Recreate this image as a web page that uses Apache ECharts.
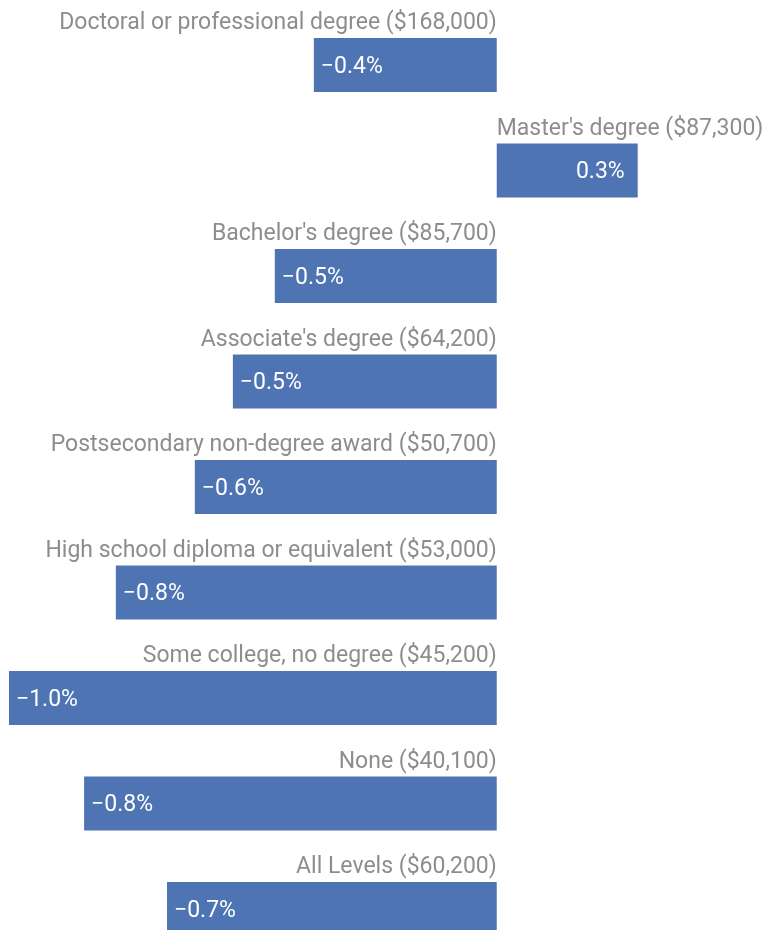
<!DOCTYPE html>
<html>
<head>
<meta charset="utf-8">
<script src="https://cdn.jsdelivr.net/npm/echarts@6/dist/echarts.min.js"></script>
<style>
html,body{margin:0;padding:0;background:#fff;}
#chart{width:765px;height:930px;}
</style>
</head>
<body>
<div id="chart"></div>
<script>
const categories = [
  "Doctoral or professional degree ($168,000)",
  "Master's degree ($87,300)",
  "Bachelor's degree ($85,700)",
  "Associate's degree ($64,200)",
  "Postsecondary non-degree award ($50,700)",
  "High school diploma or equivalent ($53,000)",
  "Some college, no degree ($45,200)",
  "None ($40,100)",
  "All Levels ($60,200)"
];
const changePct = [-0.375, 0.289, -0.455, -0.541, -0.619, -0.781, -1.0, -0.846, -0.676];

const FONT = 'Roboto';
const BAR = '#4e74b3';
const GRAY = '#707070';
const FS = 23;

function fmt(v) {
  const s = Math.abs(v).toFixed(1) + '%';
  return v < 0 ? '\u2212' + s : s;
}

const barData = changePct.map(v => ({
  value: v,
  label: v < 0
    ? { position: 'insideLeft', distance: 7 }
    : { position: 'insideRight', distance: 13 }
}));

const nameData = categories.map((c, i) => ({
  value: [0, i],
  label: { align: changePct[i] < 0 ? 'right' : 'left' }
}));

const chart = echarts.init(document.getElementById('chart'), null, { renderer: 'canvas' });
chart.setOption({
  animation: false,
  grid: { left: 9, width: 756, top: 12.25, height: 949.5, containLabel: false, outerBoundsMode: 'none' },
  xAxis: {
    type: 'value', min: -1.0, max: 0.55,
    show: false
  },
  yAxis: {
    type: 'category', data: categories, inverse: true, show: false
  },
  series: [
    {
      type: 'bar',
      data: barData,
      barWidth: 54,
      itemStyle: { color: BAR },
      label: {
        show: true,
        color: '#fff',
        fontFamily: FONT,
        fontSize: FS,
        offset: [0, 2],
        formatter: p => fmt(p.value)
      }
    },
    {
      type: 'scatter',
      data: nameData,
      symbolSize: 0,
      silent: true,
      label: {
        show: true,
        position: 'inside',
        verticalAlign: 'middle',
        offset: [0, -41.5],
        color: GRAY,
        fontFamily: FONT,
        fontSize: FS,
        formatter: p => categories[p.dataIndex]
      }
    }
  ]
});
</script>
</body>
</html>
